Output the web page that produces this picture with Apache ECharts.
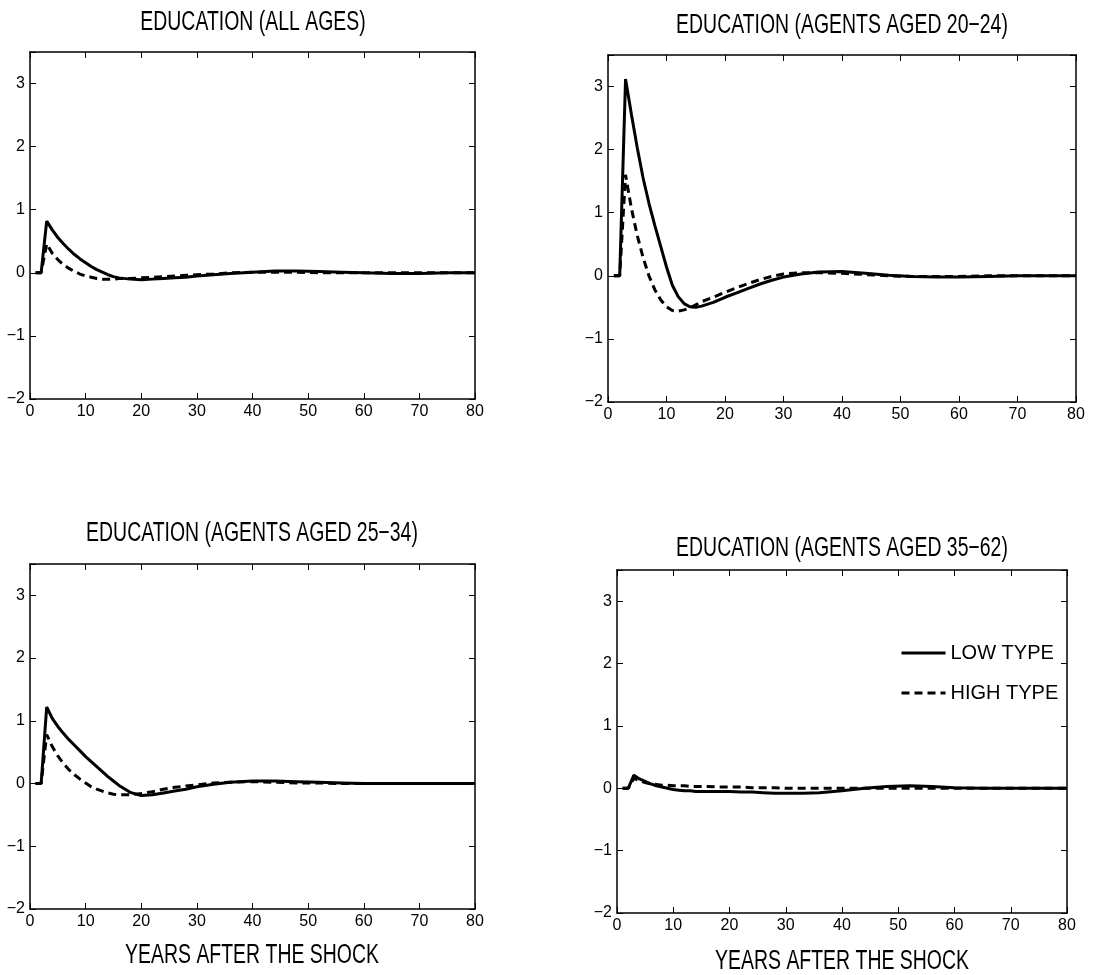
<!DOCTYPE html>
<html>
<head>
<meta charset="utf-8">
<title>Education responses</title>
<script src="https://cdn.jsdelivr.net/npm/echarts@6/dist/echarts.min.js"></script>
<style>
  html, body { margin: 0; padding: 0; background: #fff; }
  #chart { width: 1101px; height: 975px; }
</style>
</head>
<body>
<div id="chart"></div>
<script>
// Years after the shock at which each response is sampled
const years = [1, 2, 3, 4, 5, 6, 7, 8, 9, 10, 11, 12, 13, 14, 15, 16, 18, 20, 22, 24,
               26, 28, 30, 33, 36, 40, 44, 48, 52, 56, 60, 65, 70, 75, 80];

// Education (all ages)
const allLow  = [0, 0, 0.82, 0.68, 0.56, 0.46, 0.37, 0.29, 0.22, 0.16, 0.10, 0.05, 0.01, -0.03, -0.06, -0.08, -0.10, -0.11, -0.10, -0.09,
                 -0.08, -0.07, -0.05, -0.03, -0.01, 0.01, 0.03, 0.03, 0.02, 0.01, 0.00, -0.01, -0.01, 0.00, 0.00];
const allHigh = [0, 0, 0.46, 0.31, 0.21, 0.13, 0.07, 0.02, -0.02, -0.05, -0.07, -0.09, -0.10, -0.10, -0.10, -0.09, -0.09, -0.08, -0.07, -0.06,
                 -0.05, -0.04, -0.03, -0.02, 0.00, 0.01, 0.01, 0.01, 0.00, 0.00, 0.00, 0.00, 0.00, 0.00, 0.00];

// Education (agents aged 20-24)
const youngLow  = [0, 0, 3.12, 2.56, 2.03, 1.55, 1.15, 0.80, 0.47, 0.14, -0.15, -0.33, -0.44, -0.49, -0.50, -0.48, -0.42, -0.34, -0.27, -0.20,
                   -0.13, -0.07, -0.02, 0.03, 0.06, 0.07, 0.04, 0.01, -0.01, -0.02, -0.02, -0.01, 0.00, 0.00, 0.00];
const youngHigh = [0, 0, 1.60, 1.07, 0.64, 0.29, 0.00, -0.22, -0.38, -0.49, -0.55, -0.56, -0.54, -0.51, -0.46, -0.41, -0.34, -0.26, -0.19, -0.12,
                   -0.06, -0.01, 0.03, 0.05, 0.05, 0.04, 0.02, 0.00, -0.01, -0.01, -0.01, 0.00, 0.00, 0.00, 0.00];

// Education (agents aged 25-34)
const midLow  = [0, 0, 1.22, 1.04, 0.91, 0.80, 0.70, 0.61, 0.52, 0.43, 0.35, 0.27, 0.19, 0.11, 0.04, -0.03, -0.14, -0.19, -0.18, -0.15,
                 -0.12, -0.09, -0.05, -0.01, 0.02, 0.04, 0.04, 0.03, 0.02, 0.01, 0.00, 0.00, 0.00, 0.00, 0.00];
const midHigh = [0, 0, 0.78, 0.59, 0.44, 0.32, 0.22, 0.14, 0.07, 0.01, -0.05, -0.09, -0.12, -0.15, -0.17, -0.18, -0.18, -0.16, -0.13, -0.09,
                 -0.06, -0.04, -0.02, 0.01, 0.02, 0.03, 0.02, 0.01, 0.01, 0.00, 0.00, 0.00, 0.00, 0.00, 0.00];

// Education (agents aged 35-62)
const oldLow  = [0, 0, 0.21, 0.15, 0.11, 0.07, 0.04, 0.02, 0.00, -0.02, -0.03, -0.04, -0.04, -0.05, -0.05, -0.05, -0.05, -0.05, -0.06, -0.06,
                 -0.07, -0.08, -0.08, -0.08, -0.07, -0.04, 0.00, 0.03, 0.04, 0.03, 0.01, 0.00, 0.00, 0.00, 0.00];
const oldHigh = [0, 0, 0.16, 0.12, 0.09, 0.07, 0.06, 0.05, 0.05, 0.04, 0.04, 0.04, 0.03, 0.03, 0.03, 0.03, 0.02, 0.02, 0.02, 0.01,
                 0.01, 0.01, 0.00, 0.00, 0.00, 0.00, 0.00, 0.00, 0.00, 0.00, 0.00, 0.00, 0.00, 0.00, 0.00];

const panelTitles = [
  'EDUCATION (ALL AGES)',
  'EDUCATION (AGENTS AGED 20\u221224)',
  'EDUCATION (AGENTS AGED 25\u221234)',
  'EDUCATION (AGENTS AGED 35\u221262)'
];
const seriesNames = ['LOW TYPE', 'HIGH TYPE'];
const xAxisTitle = 'YEARS AFTER THE SHOCK';
const xTicks = { min: 0, max: 80, step: 10 };
const yTicks = { min: -2, max: 3.5, step: 1 };

const panelValues = [
  [allLow, allHigh],
  [youngLow, youngHigh],
  [midLow, midHigh],
  [oldLow, oldHigh]
];

const FONT = '"Liberation Sans", Arial, sans-serif';
const DASH = [8, 5];

// Plot boxes for the 2x2 layout; heading and x-axis caption centres
const boxes = [
  { left: 30,  top: 52,  width: 445, height: 347, titleX: 253, titleY: 23 },
  { left: 608, top: 55,  width: 468, height: 347, titleX: 842, titleY: 26 },
  { left: 30,  top: 564, width: 445, height: 345, titleX: 252, titleY: 534, nameY: 956 },
  { left: 617, top: 570, width: 450, height: 343, titleX: 842, titleY: 549, nameY: 962 }
];

// Condensed caption text (tall, narrow lettering)
function caption(text, x, y) {
  return {
    type: 'text', x: x, y: y, scaleX: 0.72, silent: true,
    style: {
      text: text, fill: '#000', font: '27px ' + FONT,
      textAlign: 'center', textVerticalAlign: 'middle',
      align: 'center', verticalAlign: 'middle'
    }
  };
}

const fmtY = v => (Number.isInteger(v) ? (v < 0 ? '\u2212' + (-v) : String(v)) : '');

const grids = [], xAxes = [], yAxes = [], series = [], graphics = [];

boxes.forEach((b, i) => {
  grids.push({ left: b.left, top: b.top, width: b.width, height: b.height, show: false });
  graphics.push(caption(panelTitles[i], b.titleX, b.titleY));
  if (b.nameY) graphics.push(caption(xAxisTitle, b.titleX, b.nameY));

  const line = { show: true, onZero: false, lineStyle: { color: '#000', width: 1.5 } };
  const tick = { show: true, inside: true, length: 6, lineStyle: { color: '#000', width: 1 } };

  xAxes.push({
    type: 'value', gridIndex: i, position: 'bottom',
    min: xTicks.min, max: xTicks.max, interval: xTicks.step,
    axisLine: line, axisTick: tick, splitLine: { show: false },
    axisLabel: { color: '#000', fontFamily: FONT, fontSize: 16, margin: 5 }
  });
  xAxes.push({
    type: 'value', gridIndex: i, position: 'top',
    min: xTicks.min, max: xTicks.max, interval: xTicks.step,
    axisLine: line, axisTick: tick, axisLabel: { show: false }, splitLine: { show: false }
  });
  yAxes.push({
    type: 'value', gridIndex: i, position: 'left',
    min: yTicks.min, max: yTicks.max, interval: yTicks.step,
    axisLine: line, axisTick: tick, splitLine: { show: false },
    axisLabel: { color: '#000', fontFamily: FONT, fontSize: 16, margin: 5, formatter: fmtY }
  });
  yAxes.push({
    type: 'value', gridIndex: i, position: 'right',
    min: yTicks.min, max: yTicks.max, interval: yTicks.step,
    axisLine: line, axisTick: tick, axisLabel: { show: false }, splitLine: { show: false }
  });

  panelValues[i].forEach((vals, k) => {
    series.push({
      name: seriesNames[k],
      type: 'line',
      xAxisIndex: 2 * i,
      yAxisIndex: 2 * i,
      data: years.map((x, j) => [x, vals[j]]),
      showSymbol: false,
      symbol: 'none',
      silent: true,
      animation: false,
      itemStyle: { color: '#000' },
      lineStyle: { color: '#000', width: 3, type: k === 0 ? 'solid' : DASH },
      z: 2 + k
    });
  });
});

const chart = echarts.init(document.getElementById('chart'), null, { renderer: 'canvas' });
chart.setOption({
  backgroundColor: '#fff',
  animation: false,
  grid: grids,
  xAxis: xAxes,
  yAxis: yAxes,
  graphic: graphics,
  legend: {
    data: [
      { name: seriesNames[0], itemStyle: { opacity: 0 }, lineStyle: { color: '#000', width: 3, type: 'solid' } },
      { name: seriesNames[1], itemStyle: { opacity: 0 }, lineStyle: { color: '#000', width: 3, type: DASH } }
    ],
    orient: 'vertical',
    left: 895, top: 638,
    itemWidth: 44, itemHeight: 20, itemGap: 20,
    textStyle: { color: '#000', fontFamily: FONT, fontSize: 20 },
    selectedMode: false
  },
  series: series
});
</script>
</body>
</html>
